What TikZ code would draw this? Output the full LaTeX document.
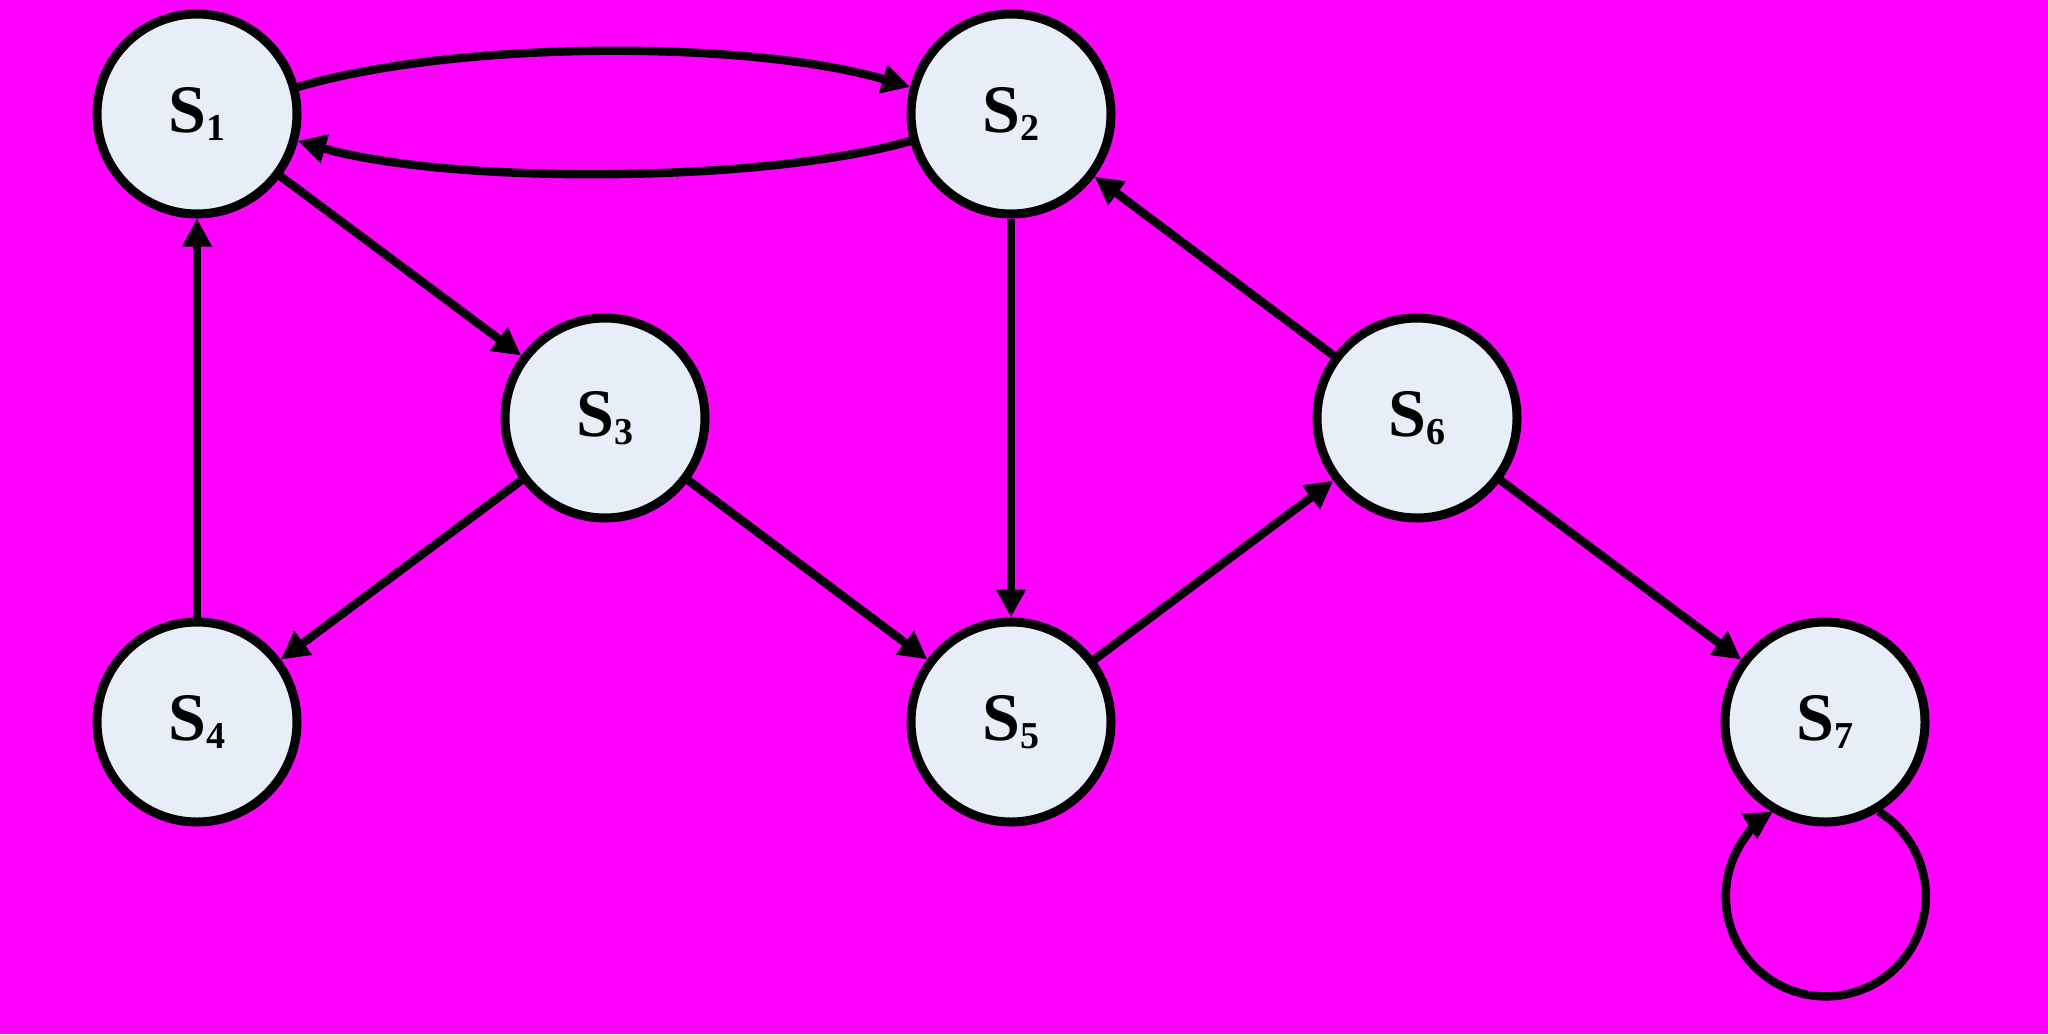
\documentclass[tikz,border=0pt]{standalone}
\usepackage{fontspec}
\setmainfont{Liberation Serif}
\usetikzlibrary{arrows.meta}
\definecolor{bgmag}{RGB}{255,0,255}
\definecolor{nodefill}{RGB}{231,238,248}
\newcommand{\stname}[1]{{\bfseries\fontsize{34}{34}\selectfont S\kern0.5pt}{\bfseries\fontsize{19}{19}\selectfont\raisebox{-4pt}{#1}}}
\begin{document}
\begin{tikzpicture}[x=0.5pt,y=-0.5pt,
  state/.style={circle,draw=black,fill=nodefill,line width=4.5pt,minimum size=100pt,inner sep=0pt},
  trans/.style={line width=4.2pt,-{Triangle[length=14pt,width=14pt]}}]
\fill[bgmag] (0,0) rectangle (2048,1034);
\useasboundingbox (0,0) rectangle (2048,1034);
\node[state] (S1) at (197,114) {\stname{1}};
\node[state] (S2) at (1011,114) {\stname{2}};
\node[state] (S3) at (605,418) {\stname{3}};
\node[state] (S4) at (197,722) {\stname{4}};
\node[state] (S5) at (1011,722) {\stname{5}};
\node[state] (S6) at (1417,418) {\stname{6}};
\node[state] (S7) at (1825,722) {\stname{7}};
\draw[trans] (S1.15) .. controls +(160,-47) and +(-160,-47) .. (S2.165);
\draw[trans] (S2.195) .. controls +(-150,43) and +(150,43) .. (S1.-15);
\draw[trans] (S1) -- (S3);
\draw[trans] (S3) -- (S4);
\draw[trans] (S3) -- (S5);
\draw[trans] (S4) -- (S1);
\draw[trans] (S2) -- (S5);
\draw[trans] (S5) -- (S6);
\draw[trans] (S6) -- (S2);
\draw[trans] (S6) -- (S7);
\draw[trans] (S7.-59) arc[start angle=58,end angle=-238,radius=50pt];
\end{tikzpicture}
\end{document}
